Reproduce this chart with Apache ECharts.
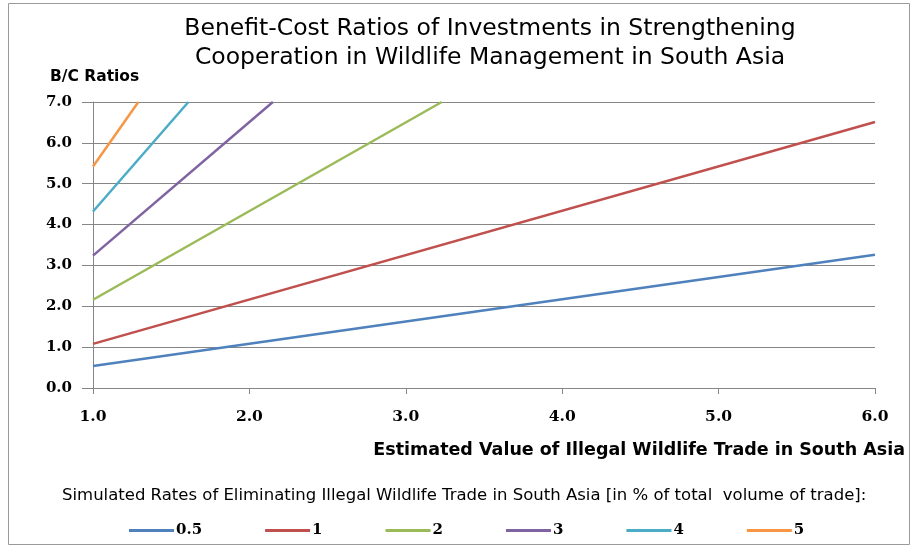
<!DOCTYPE html>
<html><head><meta charset="utf-8">
<script src="https://cdn.jsdelivr.net/npm/echarts@6/dist/echarts.min.js"></script>
<style>html,body{margin:0;padding:0;background:#fff}#c{width:914px;height:548px}</style>
</head><body><div id="c"></div>
<script>
const seriesNames = ['0.5', '1', '2', '3', '4', '5'];
const s05 = [[1.0, 0.54], [6.0, 3.26]];
const s1 = [[1.0, 1.08], [6.0, 6.51]];
const s2 = [[1.0, 2.16], [3.23, 7.0]];
const s3 = [[1.0, 3.24], [2.15, 7.0]];
const s4 = [[1.0, 4.32], [1.61, 7.0]];
const s5 = [[1.0, 5.42], [1.29, 7.0]];
const seriesData = [s05, s1, s2, s3, s4, s5];
const colors = ['#4F81BD', '#C0504D', '#9BBB59', '#8064A2', '#4BACC6', '#F79646'];
const titleText = 'Benefit-Cost Ratios of Investments in Strengthening\nCooperation in Wildlife Management in South Asia';
const yName = 'B/C Ratios';
const xName = 'Estimated Value of Illegal Wildlife Trade in South Asia';
const legendTitle = 'Simulated Rates of Eliminating Illegal Wildlife Trade in South Asia [in % of total  volume of trade]:';

const chart = echarts.init(document.getElementById('c'));
chart.setOption({
  animation: false,
  color: colors,
  title: {
    text: titleText, left: 485, top: 9, textAlign: 'center',
    textStyle: {fontFamily: 'DejaVu Sans', fontSize: 23.5, fontWeight: 'normal', color: '#000', lineHeight: 29}
  },
  graphic: [
    {type: 'rect', shape: {x: 8.5, y: 3.5, width: 901, height: 541}, style: {fill: 'none', stroke: '#9a9a9a', lineWidth: 1}},
    {type: 'text', left: 50, top: 69, style: {text: yName, font: 'bold 15.5px "DejaVu Sans"', fill: '#000'}},
    {type: 'text', left: 62, top: 487, style: {text: legendTitle, font: '16.5px "DejaVu Sans"', fill: '#000'}}
  ],
  grid: {left: 93, right: 39, top: 102, bottom: 160},
  xAxis: {
    type: 'value', min: 1, max: 6, interval: 1,
    name: xName, nameLocation: 'end', nameGap: 0,
    nameTextStyle: {fontFamily: 'DejaVu Sans', fontSize: 17.5, fontWeight: 'bold', color: '#000', align: 'right', verticalAlign: 'top', padding: [53, -30, 0, 0]},
    axisLine: {show: true, lineStyle: {color: '#868686'}},
    axisTick: {show: true, length: 6, lineStyle: {color: '#868686'}},
    splitLine: {show: false},
    axisLabel: {formatter: v => v.toFixed(1), fontFamily: 'DejaVu Serif', fontWeight: 'bold', fontSize: 15.5, color: '#000', margin: 21}
  },
  yAxis: {
    type: 'value', min: 0, max: 7, interval: 1,
    axisLine: {show: true, lineStyle: {color: '#868686'}},
    axisTick: {show: true, length: 11, lineStyle: {color: '#868686'}},
    splitLine: {show: true, lineStyle: {color: '#868686'}},
    axisLabel: {formatter: v => v.toFixed(1), fontFamily: 'DejaVu Serif', fontWeight: 'bold', fontSize: 15, color: '#000', margin: 21}
  },
  legend: {
    left: 124, top: 518, itemWidth: 45, itemHeight: 3, itemGap: 63,
    icon: 'rect',
    textStyle: {fontFamily: 'DejaVu Serif', fontWeight: 'bold', fontSize: 15, color: '#000', padding: [0, 0, 0, -3]},
    data: seriesNames
  },
  series: seriesNames.map((n, i) => ({
    name: n, type: 'line', data: seriesData[i], showSymbol: false, symbol: 'none',
    lineStyle: {width: 2.5, color: colors[i]}, clip: true
  }))
});
</script></body></html>
